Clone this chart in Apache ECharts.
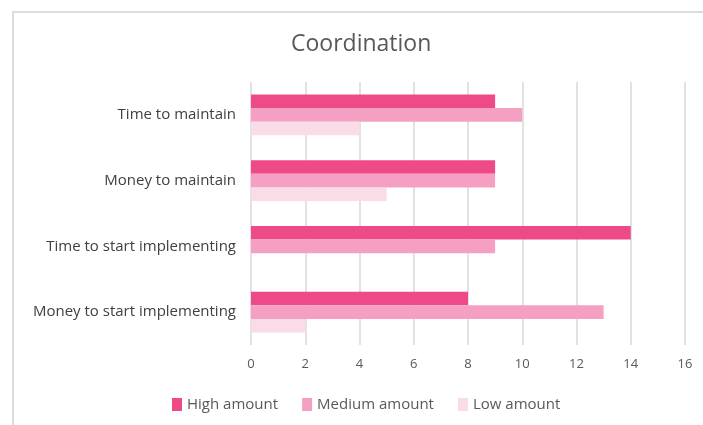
<!DOCTYPE html>
<html>
<head>
<meta charset="utf-8">
<script src="https://cdn.jsdelivr.net/npm/echarts@6/dist/echarts.min.js"></script>
<style>
  html, body { margin: 0; padding: 0; background: #ffffff; }
  #chart { width: 703px; height: 425px; }
</style>
</head>
<body>
<div id="chart"></div>
<script>
// Cost factors, listed top to bottom
const categories = [
  'Time to maintain',
  'Money to maintain',
  'Time to start implementing',
  'Money to start implementing'
];
const seriesNames = ['High amount', 'Medium amount', 'Low amount'];
const highAmount = [9, 9, 14, 8];
const mediumAmount = [10, 9, 9, 13];
const lowAmount = [4, 5, 0, 2];
const xTicks = [0, 2, 4, 6, 8, 10, 12, 14, 16];

const colors = ['#ee4a88', '#f5a0c2', '#fadbe8'];
const fontFamily = '"Open Sans", sans-serif';

const chart = echarts.init(document.getElementById('chart'), null, { renderer: 'canvas' });

const values = [highAmount, mediumAmount, lowAmount];

chart.setOption({
  animation: false,
  backgroundColor: '#ffffff',
  title: {
    text: 'Coordination',
    left: 286,
    top: 28,
    textStyle: { fontFamily, fontSize: 23, fontWeight: 'normal', color: '#595959' }
  },
  graphic: [{
    type: 'rect',
    shape: { x: 13, y: 12, width: 760, height: 460 },
    style: { fill: 'none', stroke: '#dcdcdc', lineWidth: 2 },
    silent: true,
    z: -1
  }],
  legend: {
    bottom: 8,
    left: 167,
    itemWidth: 10,
    itemHeight: 13,
    itemGap: 24,
    icon: 'rect',
    textStyle: { fontFamily, fontSize: 15, color: '#595959' },
    data: seriesNames
  },
  grid: { left: 251, right: 18, top: 82, bottom: 80, containLabel: false },
  xAxis: {
    type: 'value',
    min: xTicks[0],
    max: xTicks[xTicks.length - 1],
    interval: xTicks[1] - xTicks[0],
    axisLine: { show: false },
    axisTick: { show: false },
    axisLabel: { fontFamily, fontSize: 13, color: '#595959', margin: 13 },
    splitLine: { show: true, lineStyle: { color: '#d9d9d9', width: 1.5 } }
  },
  yAxis: {
    type: 'category',
    inverse: true,
    data: categories,
    axisLine: { show: false },
    axisTick: { show: false },
    axisLabel: { fontFamily, fontSize: 15, color: '#404040', margin: 15 }
  },
  series: seriesNames.map((name, i) => ({
    name,
    type: 'bar',
    data: values[i],
    itemStyle: { color: colors[i] },
    barGap: '0%',
    barCategoryGap: '38%'
  }))
});
</script>
</body>
</html>
